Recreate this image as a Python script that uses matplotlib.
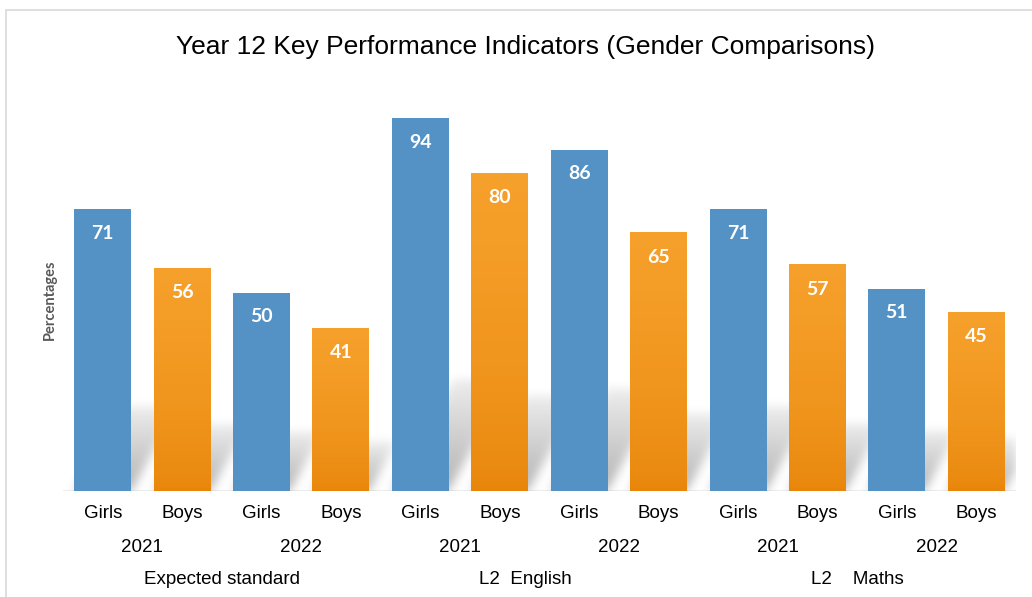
import numpy as np
import matplotlib
matplotlib.use('Agg')
import matplotlib.pyplot as plt
from matplotlib.patches import Rectangle

# ── Data ───────────────────────────────────────────────────────────────────────
groups  = ['Expected standard', 'L2  English', 'L2    Maths']
years   = ['2021', '2022']
genders = ['Girls', 'Boys']
girls   = [71, 50, 94, 86, 71, 51]   # per (group, year)
boys    = [56, 41, 80, 65, 57, 45]

BLUE       = '#5492C6'
ORANGE_TOP = np.array([246, 161, 44]) / 255
ORANGE_BOT = np.array([232, 133, 9]) / 255

values, colors = [], []
for g, b in zip(girls, boys):
    values += [g, b]
    colors += ['girls', 'boys']
xs = np.arange(len(values))
bar_w = 0.717

# ── Figure / axes geometry (pixel based) ───────────────────────────────────────
W, H = 1032, 597
fig = plt.figure(figsize=(W / 100, H / 100), dpi=100)
ax_l, ax_r, ax_b, ax_h = 63, 1016, 491, 397
ax = fig.add_axes([ax_l / W, (H - ax_b) / H, (ax_r - ax_l) / W, ax_h / H])
ax.set_xlim(-0.5, len(values) - 0.5)
ax.set_ylim(0, 100)
px_x = (ax_r - ax_l) / len(values)    # pixels per category
px_y = ax_h / 100                     # pixels per unit

# chart border (cut off on the right like the source)
fig.patches.append(Rectangle((6 / W, -0.1), 2, 1.1 - 10 / H,
                             transform=fig.transFigure, fill=False,
                             edgecolor='#D9D9D9', lw=1.2))

# ── Blurred perspective shadow behind the bars ─────────────────────────────────
sh_frac, skew, a0 = 0.30, 0.55, 0.30
gx = np.linspace(-0.5, len(values) - 0.5, int(ax_r - ax_l))
gy = np.linspace(-4, 40, int(44 * px_y))
X, Y = np.meshgrid(gx, gy)
shadow = np.zeros_like(X)
for x, v in zip(xs, values):
    sh = sh_frac * v
    shift = skew * (Y * px_y) / px_x
    inside = (Y >= 0) & (Y <= sh) & (X - shift >= x - bar_w / 2) & (X - shift <= x + bar_w / 2)
    a = a0 * (1 - 0.75 * np.clip(Y / sh, 0, 1))
    shadow = np.maximum(shadow, np.where(inside, a, 0))

sigma = 5.0
r = int(3 * sigma)
k = np.exp(-0.5 * (np.arange(-r, r + 1) / sigma) ** 2)
k /= k.sum()
shadow = np.apply_along_axis(lambda m: np.convolve(m, k, mode='same'), 0, shadow)
shadow = np.apply_along_axis(lambda m: np.convolve(m, k, mode='same'), 1, shadow)
rgba = np.zeros(shadow.shape + (4,))
rgba[..., 3] = shadow
ax.imshow(rgba, extent=[gx[0], gx[-1], gy[0], gy[-1]], origin='lower',
          aspect='auto', zorder=1, interpolation='bilinear')

# ── Bars ───────────────────────────────────────────────────────────────────────
grad = np.linspace(0, 1, 256) ** 0.6
grad_img = ORANGE_BOT + (ORANGE_TOP - ORANGE_BOT) * grad[:, None]
grad_img = grad_img[:, None, :]
for x, v, c in zip(xs, values, colors):
    if c == 'girls':
        ax.bar(x, v, width=bar_w, color=BLUE, zorder=2)
    else:
        ax.imshow(grad_img, extent=[x - bar_w / 2, x + bar_w / 2, 0, v],
                  origin='lower', aspect='auto', zorder=2, interpolation='bilinear')
    ax.annotate(str(v), (x, v), xytext=(0, -17.5), textcoords='offset points',
                ha='center', va='center', color='white', fontsize=14,
                fontweight='bold', family='Lato', zorder=4)

ax.set_xlim(-0.5, len(values) - 0.5)
ax.set_ylim(0, 100)
ax.axhline(0, color='#EEEEEE', lw=1.5, zorder=0)
for sp in ax.spines.values():
    sp.set_visible(False)
ax.set_xticks([])
ax.set_yticks([])

# ── Multi-level category labels ────────────────────────────────────────────────
lab_font = dict(family='Liberation Sans', fontsize=13.5, color='black',
                ha='center', va='center')
trans = ax.get_xaxis_transform()
for x, c in zip(xs, colors):
    ax.text(x, -22 / ax_h, genders[0] if c == 'girls' else genders[1],
            transform=trans, **lab_font)
n_years = len(years)
for i in range(len(girls)):
    ax.text(2 * i + 0.5, -56 / ax_h, years[i % n_years], transform=trans, **lab_font)
for i, g in enumerate(groups):
    cx = 4 * i + 1.5
    if i == 1:
        cx -= 14 / px_x
    ax.text(cx, -89 / ax_h, g, transform=trans, **lab_font)

ax.text((50 - ax_l) / (ax_r - ax_l), (ax_b - 300) / ax_h, 'Percentages',
        transform=ax.transAxes, rotation=90, ha='center', va='center',
        fontsize=10.5, fontweight='bold', family='Lato', color='#595959')

fig.text(526 / W, 1 - 47 / H, 'Year 12 Key Performance Indicators (Gender Comparisons)',
         ha='center', va='center', fontsize=19, family='Liberation Sans', color='black')

fig.savefig('out.png', dpi=100)
